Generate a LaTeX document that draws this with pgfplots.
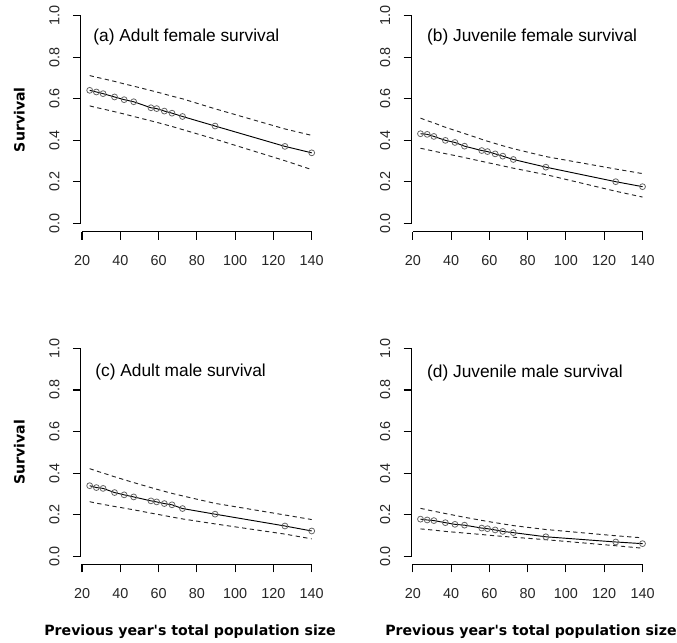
\documentclass[border=0pt]{standalone}
\usepackage{pgfplots}
\pgfplotsset{compat=1.18}
\usepackage{pgfplotstable}
\usepackage{fontspec}
\setmainfont{Liberation Sans}
\newfontfamily\labfont{DejaVu Sans}

\pgfplotstableread{
x m u l
24 0.641 0.712 0.566
27.5 0.633 0.704 0.558
31 0.625 0.697 0.551
37 0.609 0.684 0.538
42 0.596 0.672 0.527
47 0.586 0.661 0.515
56 0.557 0.640 0.494
59 0.553 0.633 0.487
63 0.541 0.623 0.477
67 0.531 0.613 0.467
72.5 0.515 0.600 0.452
89.5 0.469 0.552 0.406
126 0.371 0.455 0.302
140 0.340 0.424 0.259
}\tabA
\pgfplotstableread{
x m u l
24 0.432 0.507 0.362
27.5 0.429 0.495 0.355
31 0.419 0.484 0.348
37 0.400 0.463 0.336
42 0.390 0.448 0.327
47 0.372 0.433 0.317
56 0.351 0.405 0.299
59 0.346 0.396 0.293
63 0.335 0.385 0.285
67 0.324 0.374 0.277
72.5 0.308 0.360 0.266
89.5 0.271 0.322 0.235
126 0.201 0.262 0.155
140 0.177 0.240 0.127
}\tabB
\pgfplotstableread{
x m u l
24 0.339 0.421 0.262
27.5 0.330 0.410 0.255
31 0.326 0.400 0.249
37 0.306 0.382 0.239
42 0.295 0.368 0.231
47 0.285 0.354 0.223
56 0.266 0.330 0.207
59 0.261 0.322 0.202
63 0.253 0.312 0.195
67 0.247 0.302 0.188
72.5 0.229 0.290 0.179
89.5 0.202 0.254 0.155
126 0.145 0.198 0.106
140 0.121 0.176 0.083
}\tabC
\pgfplotstableread{
x m u l
24 0.178 0.230 0.131
27.5 0.174 0.223 0.128
31 0.171 0.216 0.125
37 0.161 0.205 0.119
42 0.153 0.196 0.115
47 0.149 0.187 0.111
56 0.135 0.172 0.104
59 0.132 0.167 0.101
63 0.126 0.161 0.098
67 0.119 0.155 0.095
72.5 0.113 0.147 0.091
89.5 0.093 0.128 0.079
126 0.068 0.098 0.050
140 0.060 0.088 0.038
}\tabD

\pgfplotsset{
  panel/.style={
    scale only axis, width=179.85pt, height=168.2pt,
    xmin=19.36, xmax=144.64, ymin=-0.04, ymax=1.04,
    axis x line*=bottom, axis y line*=left,
    axis line style={-, black, line width=0.75pt},
    x axis line style={shorten <=0.92pt, shorten >=6.66pt},
    y axis line style={shorten <=6.23pt, shorten >=6.23pt},
    xtick={20,40,60,80,100,120,140},
    ytick={0,0.2,0.4,0.6,0.8,1.0},
    yticklabels={0.0,0.2,0.4,0.6,0.8,1.0},
    xtick align=outside, ytick align=outside,
    major tick length=6pt,
    every tick/.style={draw=black, line width=0.8pt},
    /pgf/number format/assume math mode=true,
    ticklabel style={font=\fontsize{10.8}{12}\selectfont, text=black!85},
    yticklabel style={xshift=-6.5pt, rotate=90, anchor=south},
    xticklabel style={anchor=north, yshift=-8.5pt},
    clip=false,
  },
  meanline/.style={black, line width=0.7pt, mark=o, mark size=2.2pt,
    mark options={solid, draw=black!60, line width=0.6pt}},
  ciline/.style={black!85, line width=0.7pt, dash pattern=on 3.2pt off 2.6pt},
}

\begin{document}
\begin{tikzpicture}
\path[use as bounding box] (0,0) rectangle (507.75pt,-481.5pt);

% (a)
\begin{axis}[panel, at={(60.6pt,-173.8pt)}, anchor=south west]
\addplot[ciline] table[x=x,y=u]{\tabA};
\addplot[ciline] table[x=x,y=l]{\tabA};
\addplot[meanline] table[x=x,y=m]{\tabA};
\node[anchor=west, font=\fontsize{13}{15}\selectfont] at (axis cs:23.5,0.90) {(a) Adult female survival};
\node[rotate=90, font=\labfont\bfseries\fontsize{10.6}{12}\selectfont] at ([xshift=-46pt]axis cs:19.36,0.5) {Survival};
\end{axis}

% (b)
\begin{axis}[panel, at={(308.7pt,-173.8pt)}, anchor=south west]
\addplot[ciline] table[x=x,y=u]{\tabB};
\addplot[ciline] table[x=x,y=l]{\tabB};
\addplot[meanline] table[x=x,y=m]{\tabB};
\node[anchor=west, font=\fontsize{13}{15}\selectfont] at (axis cs:25,0.90) {(b) Juvenile female survival};
\end{axis}

% (c)
\begin{axis}[panel, at={(60.6pt,-423.3pt)}, anchor=south west]
\addplot[ciline] table[x=x,y=u]{\tabC};
\addplot[ciline] table[x=x,y=l]{\tabC};
\addplot[meanline] table[x=x,y=m]{\tabC};
\node[anchor=west, font=\fontsize{13}{15}\selectfont] at (axis cs:24.5,0.885) {(c) Adult male survival};
\node[rotate=90, font=\labfont\bfseries\fontsize{10.6}{12}\selectfont] at ([xshift=-46pt]axis cs:19.36,0.5) {Survival};
\node[font=\labfont\bfseries\fontsize{10.6}{12}\selectfont] at ([xshift=81.9pt, yshift=-50.5pt]axis cs:19.36,-0.04) {Previous year's total population size};
\end{axis}

% (d)
\begin{axis}[panel, at={(308.7pt,-423.3pt)}, anchor=south west]
\addplot[ciline] table[x=x,y=u]{\tabD};
\addplot[ciline] table[x=x,y=l]{\tabD};
\addplot[meanline] table[x=x,y=m]{\tabD};
\node[anchor=west, font=\fontsize{13}{15}\selectfont] at (axis cs:25,0.88) {(d) Juvenile male survival};
\node[font=\labfont\bfseries\fontsize{10.6}{12}\selectfont] at ([xshift=89.5pt, yshift=-50.5pt]axis cs:19.36,-0.04) {Previous year's total population size};
\end{axis}
\end{tikzpicture}
\end{document}
